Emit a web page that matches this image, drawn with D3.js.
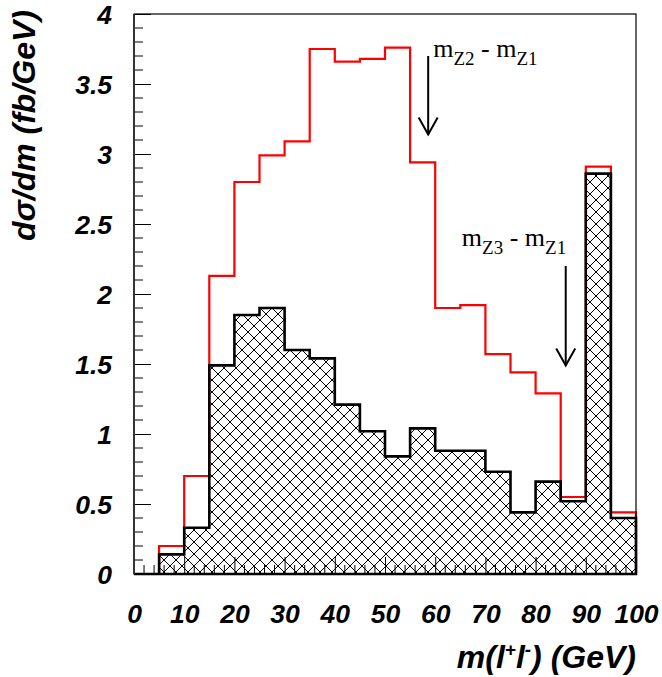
<!DOCTYPE html>
<html>
<head>
<meta charset="utf-8">
<script src="https://cdn.jsdelivr.net/npm/d3@7"></script>
<style>
  body { margin: 0; background: #fff; }
  .tick text { font-family: "Liberation Sans", Arial, sans-serif; font-weight: bold; font-style: italic; }
</style>
</head>
<body>
<div id="chart"></div>
<script>
// 5 GeV bins from 0 to 100
const binEdges = [0, 5, 10, 15, 20, 25, 30, 35, 40, 45, 50, 55, 60, 65, 70, 75, 80, 85, 90, 95, 100];
// red histogram (total)
const totalValues = [0, 0.2, 0.7, 2.13, 2.8, 2.99, 3.09, 3.75, 3.66, 3.68, 3.76, 2.94, 1.9, 1.92, 1.57, 1.44, 1.29, 0.55, 2.91, 0.44];
// hatched histogram
const hatchValues = [0, 0.14, 0.33, 1.49, 1.85, 1.9, 1.6, 1.54, 1.21, 1.02, 0.84, 1.04, 0.88, 0.88, 0.73, 0.44, 0.66, 0.52, 2.86, 0.40];

const xTicks = [0, 10, 20, 30, 40, 50, 60, 70, 80, 90, 100];
const yTicks = [0, 0.5, 1, 1.5, 2, 2.5, 3, 3.5, 4];

// arrows: x, from y, to y  (data units)
const arrowX = [58.6, 86.0];
const arrowTop = [3.70, 2.20];
const arrowTip = [3.14, 1.49];
// labels next to arrows
const labelMain = ["m", "m"];
const labelSub = [["Z2", "Z1"], ["Z3", "Z1"]];
const labelX = [59.6, 65.3];
const labelY = [3.69, 2.34];

const W = 662, H = 677;
const margin = { top: 14, right: 26, bottom: 103, left: 134 },
  width = W - margin.left - margin.right,
  height = H - margin.top - margin.bottom;

const svgRoot = d3.select("#chart").append("svg")
  .attr("width", W).attr("height", H);

const defs = svgRoot.append("defs");
const hs = 12;
const pat = defs.append("pattern")
  .attr("id", "hatch")
  .attr("patternUnits", "userSpaceOnUse")
  .attr("width", hs).attr("height", hs);
pat.append("path")
  .attr("d", `M0,0L${hs},${hs}M${hs},0L0,${hs}M-1,${hs - 1}L1,${hs + 1}M${hs - 1},-1L${hs + 1},1M-1,1L1,-1M${hs - 1},${hs + 1}L${hs + 1},${hs - 1}`)
  .attr("stroke", "#000").attr("stroke-width", 1);

const svg = svgRoot.append("g")
  .attr("transform", "translate(" + margin.left + "," + margin.top + ")");

const x = d3.scaleLinear().domain([0, 100]).range([0, width]);
const y = d3.scaleLinear().domain([0, 4]).range([height, 0]);

// step outline of a histogram
function stepPoints(vals) {
  const pts = [[binEdges[0], 0]];
  vals.forEach((v, i) => {
    pts.push([binEdges[i], v]);
    pts.push([binEdges[i + 1], v]);
  });
  pts.push([binEdges[binEdges.length - 1], 0]);
  return pts;
}
const line = d3.line().x(d => x(d[0])).y(d => y(d[1]));

// red histogram
svg.append("path")
  .attr("d", line(stepPoints(totalValues)))
  .attr("fill", "none")
  .attr("stroke", "#ff0000")
  .attr("stroke-width", 2.2);

// hatched histogram
svg.append("path")
  .attr("d", line(stepPoints(hatchValues)) + "Z")
  .attr("fill", "url(#hatch)")
  .attr("stroke", "#000")
  .attr("stroke-width", 2.6)
  .attr("stroke-linejoin", "miter");

// frame
svg.append("rect")
  .attr("x", 0).attr("y", 0)
  .attr("width", width).attr("height", height)
  .attr("fill", "none").attr("stroke", "#000").attr("stroke-width", 1.2);

// x axis ticks (inward)
const xAxis = svg.append("g").attr("transform", "translate(0," + height + ")");
xAxis.call(d3.axisBottom(x).tickValues(xTicks).tickSize(-17).tickPadding(0).tickFormat(d3.format("d")));
xAxis.select(".domain").remove();
xAxis.selectAll(".tick line").attr("stroke-width", 1);
xAxis.selectAll(".tick text")
  .attr("y", 49).attr("dy", 0)
  .attr("font-size", 26.5).attr("fill", "#000");
xAxis.selectAll(".minor").data(d3.range(0, 101, 2).filter(v => v % 10 !== 0))
  .enter().append("line")
  .attr("x1", d => x(d)).attr("x2", d => x(d))
  .attr("y1", 0).attr("y2", -9)
  .attr("stroke", "#000").attr("stroke-width", 1);

// y axis ticks (inward)
const yAxis = svg.append("g");
yAxis.call(d3.axisLeft(y).tickValues(yTicks).tickSize(-17).tickPadding(0).tickFormat(d3.format("")));
yAxis.select(".domain").remove();
yAxis.selectAll(".tick line").attr("stroke-width", 1);
yAxis.selectAll(".tick text")
  .attr("x", -22).attr("dy", "0.36em")
  .attr("font-size", 26.5).attr("fill", "#000");
yAxis.selectAll(".minor").data(d3.range(0, 4.001, 0.1).filter(v => Math.abs(v * 2 - Math.round(v * 2)) > 1e-6))
  .enter().append("line")
  .attr("x1", 0).attr("x2", 9)
  .attr("y1", d => y(d)).attr("y2", d => y(d))
  .attr("stroke", "#000").attr("stroke-width", 1);
svg.append("line")
  .attr("x1", 0).attr("x2", 0).attr("y1", 0).attr("y2", height)
  .attr("stroke", "#333").attr("stroke-width", 2);

// axis titles
const xt = svgRoot.append("text")
  .attr("x", margin.left + width).attr("y", 668)
  .attr("text-anchor", "end")
  .attr("font-family", "Liberation Sans, Arial, sans-serif")
  .attr("font-weight", "bold").attr("font-style", "italic")
  .attr("font-size", 32);
xt.append("tspan").text("m(l");
xt.append("tspan").attr("font-size", 19).attr("dy", -12).text("+");
xt.append("tspan").attr("dy", 12).text("l");
xt.append("tspan").attr("font-size", 19).attr("dy", -12).text("-");
xt.append("tspan").attr("dy", 12).text(") (GeV)");

svgRoot.append("text")
  .attr("transform", "translate(35,10) rotate(-90)")
  .attr("text-anchor", "end")
  .attr("font-family", "Liberation Sans, Arial, sans-serif")
  .attr("font-weight", "bold").attr("font-style", "italic")
  .attr("font-size", 32)
  .text("dσ/dm (fb/GeV)");

// arrows
arrowX.forEach((ax, i) => {
  const px = x(ax), pt = y(arrowTop[i]), pb = y(arrowTip[i]);
  svg.append("line")
    .attr("x1", px).attr("x2", px).attr("y1", pt).attr("y2", pb)
    .attr("stroke", "#000").attr("stroke-width", 2);
  svg.append("path")
    .attr("d", "M" + (px - 9.5) + "," + (pb - 17) + "L" + px + "," + pb + "L" + (px + 9.5) + "," + (pb - 17))
    .attr("fill", "none").attr("stroke", "#000").attr("stroke-width", 2);
});

// arrow labels
labelMain.forEach((m, i) => {
  const t = svg.append("text")
    .attr("x", x(labelX[i])).attr("y", y(labelY[i]))
    .attr("font-family", "Liberation Serif, Times New Roman, serif")
    .attr("font-size", 26).attr("fill", "#000");
  t.append("tspan").text(m);
  t.append("tspan").attr("font-size", 19).attr("dy", 8).text(labelSub[i][0]);
  t.append("tspan").attr("dy", -8).text(" - " + m);
  t.append("tspan").attr("font-size", 19).attr("dy", 8).text(labelSub[i][1]);
});
</script>
</body>
</html>
